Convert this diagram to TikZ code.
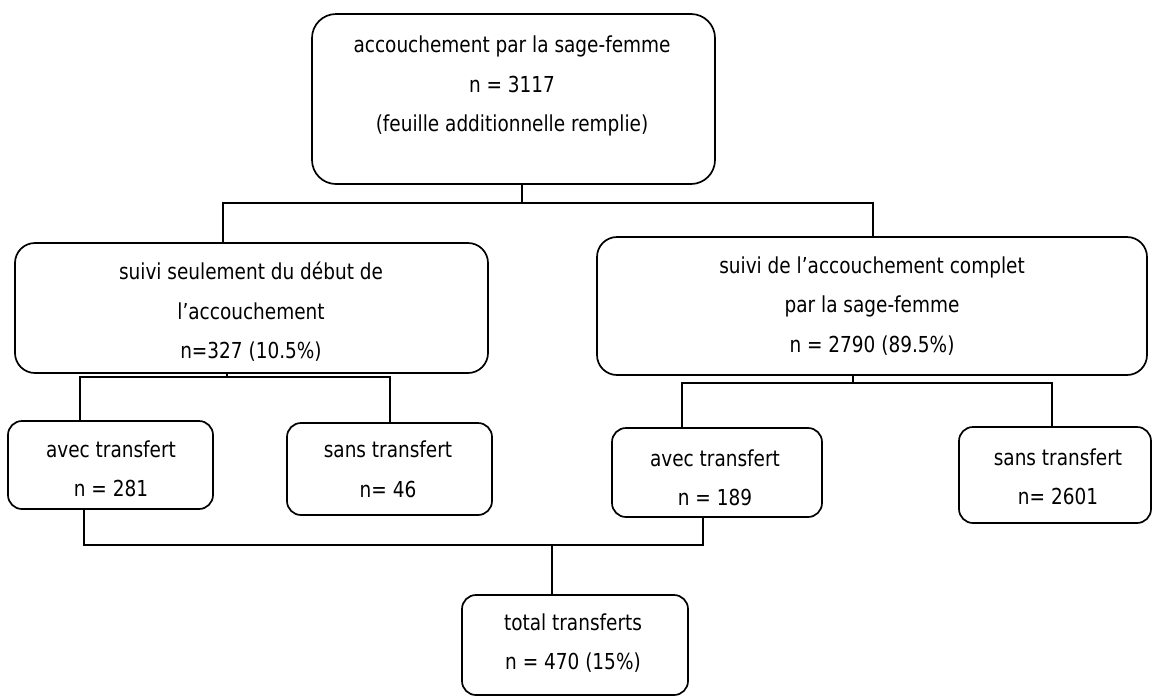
\documentclass[tikz,border=0pt]{standalone}
\usepackage{fontspec}
\setmainfont[FakeStretch=0.84]{DejaVu Sans}
\begin{document}
\begin{tikzpicture}[x=1pt,y=-1pt,
  box/.style={draw, line width=1.7pt, rounded corners=#1, inner sep=0pt},
  box/.default=14pt,
  txt/.style={align=center, inner sep=0pt, font=\fontsize{22}{39.5}\selectfont},
  wire/.style={line width=1.7pt}]
\useasboundingbox (0,0) rectangle (1153,697);
% boxes
\node[box=24pt, minimum width=403pt, minimum height=170pt] (top) at (513.5,99) {};
\node[box=20pt, minimum width=473pt, minimum height=130pt] (lm) at (251.5,308) {};
\node[box=20pt, minimum width=550pt, minimum height=138pt] (rm) at (872,306) {};
\node[box, minimum width=205pt, minimum height=88pt] (a1) at (110.5,465) {};
\node[box, minimum width=205pt, minimum height=92pt] (s1) at (389.5,469) {};
\node[box, minimum width=210pt, minimum height=89pt] (a2) at (717,472.5) {};
\node[box, minimum width=192pt, minimum height=96pt] (s2) at (1055,475) {};
\node[box, minimum width=226pt, minimum height=100pt] (tot) at (575,645) {};
% texts
\node[txt] (topT) at (512,86) {accouchement par la sage-femme\\n = 3117\\(feuille additionnelle remplie)};
\node[txt] (lmT) at (251,312) {suivi seulement du début de\\l’accouchement\\n=327 (10.5\%)};
\node[txt] (rmT) at (872,306) {suivi de l’accouchement complet\\par la sage-femme\\n = 2790 (89.5\%)};
\node[txt] (a1T) at (111,469) {avec transfert\\n = 281};
\node[txt] (s1T) at (388,469.5) {sans transfert\\n= 46};
\node[txt] (a2T) at (715,478) {avec transfert\\n = 189};
\node[txt] (s2T) at (1058,477) {sans transfert\\n= 2601};
\node[txt] (totT) at (573,643) {total transferts\\n = 470 (15\%)};
% junction coordinates
\coordinate (j0) at (522,203);
\coordinate (j0L) at (223,203);
\coordinate (j0R) at (873,203);
\coordinate (j1) at (227,377);
\coordinate (j1L) at (80,377);
\coordinate (j1R) at (390,377);
\coordinate (j2) at (853,383);
\coordinate (j2L) at (682,383);
\coordinate (j2R) at (1052,383);
\coordinate (j3) at (552,545);
\coordinate (j3L) at (84,545);
\coordinate (j3R) at (703,545);
% connectors
\draw[wire] (top.south -| j0) -- (j0);
\draw[wire] (lm.north -| j0L) -- (j0L) -- (j0R) -- (rm.north -| j0R);
\draw[wire] (lm.south -| j1) -- (j1);
\draw[wire] (a1.north -| j1L) -- (j1L) -- (j1R) -- (s1.north -| j1R);
\draw[wire] (rm.south -| j2) -- (j2);
\draw[wire] (a2.north -| j2L) -- (j2L) -- (j2R) -- (s2.north -| j2R);
\draw[wire] (a1.south -| j3L) -- (j3L) -- (j3R) -- (a2.south -| j3R);
\draw[wire] (j3) -- (tot.north -| j3);
\end{tikzpicture}
\end{document}
